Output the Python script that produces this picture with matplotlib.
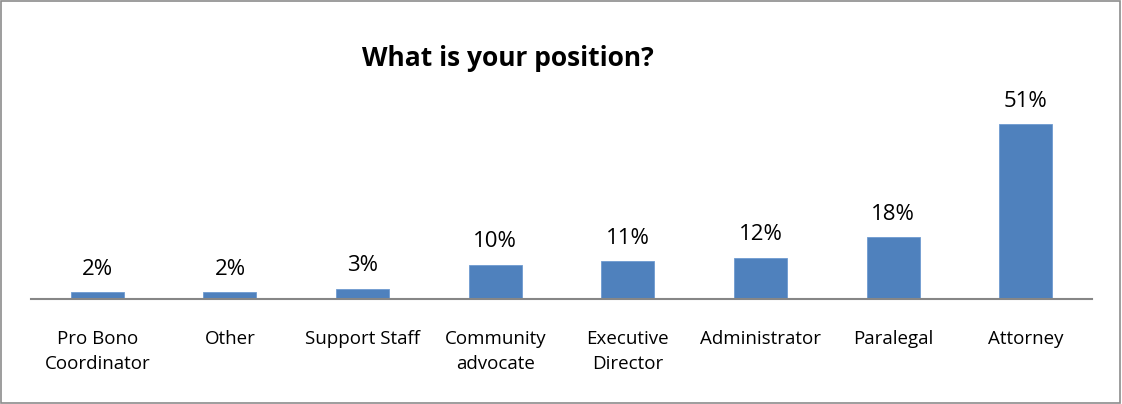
import matplotlib.pyplot as plt
from matplotlib.patches import Rectangle

positions = ["Pro Bono\nCoordinator", "Other", "Support Staff", "Community\nadvocate",
             "Executive\nDirector", "Administrator", "Paralegal", "Attorney"]
shares = [2, 2, 3, 10, 11, 12, 18, 51]

plt.rcParams['font.family'] = ['Open Sans', 'DejaVu Sans']

fig = plt.figure(figsize=(11.22, 4.04), dpi=100)
ax = fig.add_axes([31 / 1122, 105 / 404, 1061 / 1122, 209 / 404])

x = range(len(positions))
bars = ax.bar(x, shares, width=0.4, color='#4F81BD', edgecolor='#6f9bd0', linewidth=0.6)

for b, v in zip(bars, shares):
    ax.annotate(f"{v}%", (b.get_x() + b.get_width() / 2, b.get_height()),
                xytext=(0, 9), textcoords='offset points',
                ha='center', va='bottom', fontsize=16)

ax.set_xlim(-0.5, len(positions) - 0.5)
ax.set_ylim(0, 209 / 3.43)
ax.set_xticks(list(x))
ax.set_xticklabels(positions, fontsize=13.5, linespacing=1.55, va='top')
ax.tick_params(axis='x', length=0, pad=22)
ax.set_yticks([])
for side in ['top', 'right', 'left']:
    ax.spines[side].set_visible(False)
ax.spines['bottom'].set_color('#868686')
ax.spines['bottom'].set_linewidth(1.5)

fig.text(508 / 1122, 1 - 58 / 404, "What is your position?", ha='center', va='center',
         fontsize=19, fontweight='bold')

# outer chart border
fig.patches.append(Rectangle((0.001, 0.002), 0.997, 0.995, transform=fig.transFigure,
                             fill=False, edgecolor='#8c8c8c', linewidth=1.2))

fig.savefig('out.png', dpi=100)
